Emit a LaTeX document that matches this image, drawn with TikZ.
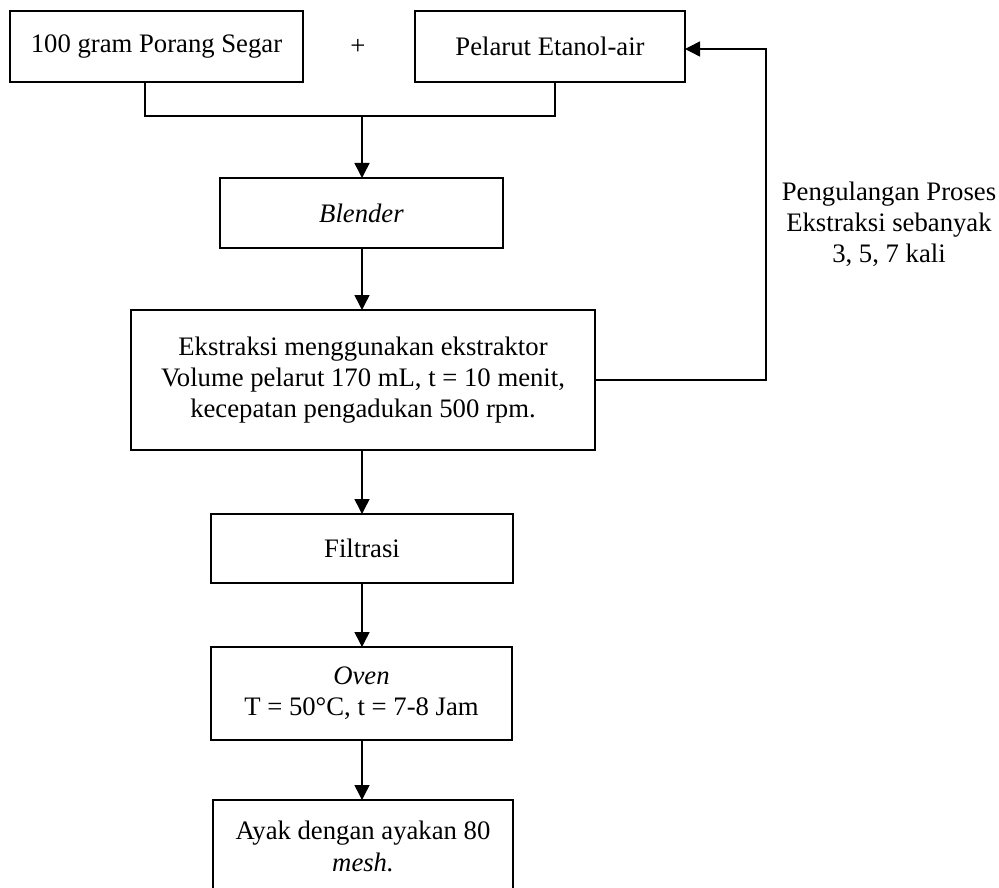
\documentclass[tikz,border=0pt]{standalone}
\usepackage{fontspec}
\setmainfont{Liberation Serif}
\usetikzlibrary{arrows.meta}
\begin{document}
\begin{tikzpicture}[x=1pt,y=-1pt,
  every node/.style={font=\fontsize{26.7}{31.2}\selectfont},
  box/.style={draw, line width=1.2pt, inner sep=0pt, outer sep=0pt, align=center},
  conn/.style={line width=1.5pt},
  arr/.style={conn,-{Triangle[length=15pt,width=15pt]}}]
\useasboundingbox (0,0) rectangle (999,888);
\clip (0,0) rectangle (999,888);
\node[box, minimum width=293pt, minimum height=71pt] (b1) at (156.5,46.5) {100 gram Porang Segar};
\node (plus) at (358,47) {+};
\node[box, minimum width=270pt, minimum height=71pt] (b2) at (550,46.5) {Pelarut Etanol-air};
\node[box, minimum width=283pt, minimum height=70pt] (bl) at (361.5,213) {\textit{Blender}};
\node[box, minimum width=464pt, minimum height=140pt] (ek) at (363,380) {Ekstraksi menggunakan ekstraktor\\Volume pelarut 170 mL, t = 10 menit,\\kecepatan pengadukan 500 rpm.};
\node[box, minimum width=302pt, minimum height=69pt] (fi) at (362,548.5) {Filtrasi};
\node[box, minimum width=301pt, minimum height=93pt] (ov) at (361.5,693.5) {\textit{Oven}\\T = 50°C, t = 7-8 Jam};
\node[box, minimum width=300pt, minimum height=93pt] (ay) at (363,846.5) {Ayak dengan ayakan 80\\\textit{mesh.}};
\node[align=center] (lbl) at (889,224) {Pengulangan Proses\\Ekstraksi sebanyak\\3, 5, 7 kali};
\coordinate (jl) at (145,116);
\coordinate (jr) at (555,116);
\coordinate (j) at (362,116);
\coordinate (c) at (362,0);
\coordinate (fbt) at (766,49);
\draw[conn] (b1.south -| jl) -- (jl) -- (jr) -- (b2.south -| jr);
\draw[arr] (j) -- (c |- bl.north);
\draw[arr] (c |- bl.south) -- (c |- ek.north);
\draw[arr] (c |- ek.south) -- (c |- fi.north);
\draw[arr] (c |- fi.south) -- (c |- ov.north);
\draw[arr] (c |- ov.south) -- (c |- ay.north);
\draw[arr] (ek.east) -- (ek.east -| fbt) -- (fbt) -- (fbt -| b2.east);
\end{tikzpicture}
\end{document}
